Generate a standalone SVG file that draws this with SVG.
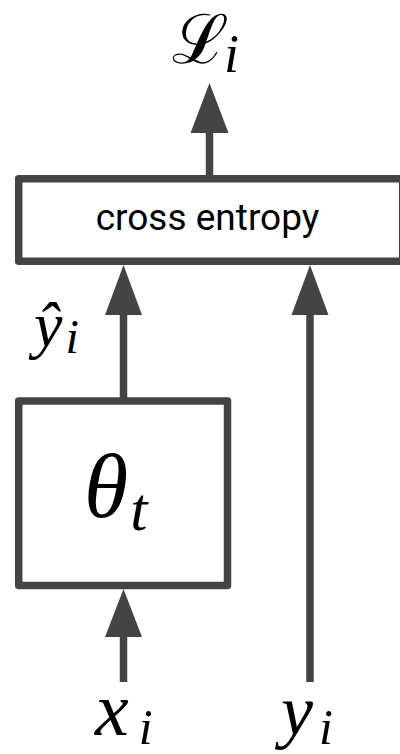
<svg xmlns="http://www.w3.org/2000/svg" width="400" height="754" viewBox="0 0 400 754">
<style>
.box{fill:#fff;stroke:#444;stroke-width:7.5;stroke-linejoin:round}
.ln{stroke:#444;stroke-width:7.5;fill:none}
.ah{fill:#444}
.lbl{font-family:Roboto,"Liberation Sans",sans-serif;font-size:37px;fill:#000}
</style>
<rect width="400" height="754" fill="#fff"/>
<g id="connectors">
<line class="ln" x1="209.5" y1="130" x2="209.5" y2="176"/>
<polygon class="ah" points="209.5,83 190.5,133 228.5,133"/>
<line class="ln" x1="123.5" y1="312" x2="123.5" y2="398"/>
<polygon class="ah" points="123.5,265 105,315 142,315"/>
<line class="ln" x1="310" y1="312" x2="310" y2="682"/>
<polygon class="ah" points="310,265 291.5,315 328.5,315"/>
<line class="ln" x1="123.5" y1="634" x2="123.5" y2="682"/>
<polygon class="ah" points="123.5,589 105,637 142,637"/>
</g>
<g id="loss">
<text x="172" y="63" font-size="68" font-family="'DejaVu Serif', serif">ℒ<tspan font-family="'Liberation Serif', serif" font-style="italic" font-size="54" dx="-5" dy="9">i</tspan></text>
</g>
<g id="cross-entropy">
<rect class="box" x="18.7" y="178.7" width="384" height="82.6"/>
<text class="lbl" x="207.5" y="230" text-anchor="middle">cross entropy</text>
</g>
<g id="yhat">
<text x="34" y="346" font-size="64" font-family="'Liberation Serif', serif" font-style="italic">ŷ<tspan font-size="48" dx="3" dy="7">i</tspan></text>
</g>
<g id="theta">
<rect class="box" x="18.7" y="401" width="208.8" height="184.5"/>
<text x="84" y="517" font-size="90" font-family="'Liberation Serif', serif" font-style="italic">θ<tspan font-size="62" dx="2" dy="13">t</tspan></text>
</g>
<g id="x">
<text x="95" y="735" font-size="76" font-family="'Liberation Serif', serif" font-style="italic">x<tspan font-size="50" dx="10" dy="9">i</tspan></text>
</g>
<g id="y">
<text x="281" y="735" font-size="72" font-family="'Liberation Serif', serif" font-style="italic">y<tspan font-size="50" dx="6" dy="9">i</tspan></text>
</g>
</svg>
